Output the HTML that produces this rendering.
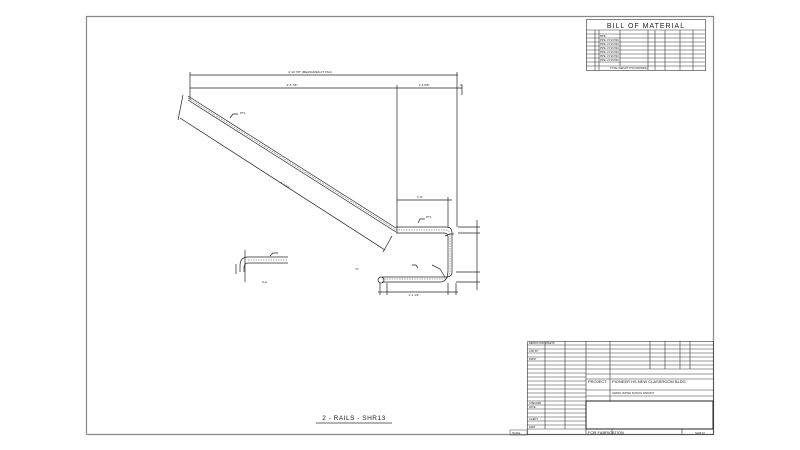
<!DOCTYPE html>
<html><head><style>
html,body{margin:0;padding:0;background:#fff}
svg{display:block}
text{font-family:"Liberation Sans",sans-serif;fill:#222}
</style></head><body>
<svg width="800" height="450" viewBox="0 0 800 450" xmlns="http://www.w3.org/2000/svg">
<g fill="none" stroke="#666">
<path d="M86.5 434.5V16.5H713.5V434.5H86.5" stroke="#888" stroke-width="1.2"/>
</g>
<!-- BOM -->
<g fill="none" stroke="#333" stroke-width="0.6">
<rect x="586.5" y="19.5" width="119" height="51"/>
<line x1="586" y1="30" x2="705" y2="30"/>
<line x1="586" y1="34" x2="705" y2="34"/>
<line x1="586" y1="38" x2="705" y2="38"/>
<line x1="586" y1="42" x2="705" y2="42"/>
<line x1="586" y1="46" x2="705" y2="46"/>
<line x1="586" y1="50" x2="705" y2="50"/>
<line x1="586" y1="54" x2="705" y2="54"/>
<line x1="586" y1="58" x2="705" y2="58"/>
<line x1="586" y1="62" x2="705" y2="62"/>
<line x1="586" y1="66" x2="705" y2="66"/>
<line x1="595" y1="30" x2="595" y2="70"/>
<line x1="599" y1="30" x2="599" y2="70"/>
<line x1="620" y1="30" x2="620" y2="66"/>
<line x1="648" y1="30" x2="648" y2="70"/>
<line x1="655" y1="30" x2="655" y2="70"/>
<line x1="665" y1="30" x2="665" y2="70"/>
<line x1="680" y1="30" x2="680" y2="70"/>
<line x1="693" y1="30" x2="693" y2="70"/>
</g>
<text x="646" y="28" font-size="7" text-anchor="middle" letter-spacing="1">BILL OF MATERIAL</text>
<g font-size="2.5">
<text x="600" y="37">PIPE</text><text x="600" y="41">PIPE 1.5 SCH40</text><text x="600" y="45">PIPE 1.5 SCH40</text><text x="600" y="49">PIPE 1.5 SCH40</text><text x="600" y="53">PIPE 1.5 SCH40</text><text x="600" y="57">PIPE 1.5 SCH40</text><text x="600" y="61">PIPE 1.5 SCH40</text>
<text x="610" y="69">TOTAL WEIGHT THIS DRAWING</text>
</g>
<!-- main drawing -->
<g fill="none" stroke="#222" stroke-width="0.7">
<line x1="190" y1="75" x2="458" y2="75"/>
<line x1="190" y1="88" x2="462" y2="88"/>
<line x1="190" y1="72" x2="190" y2="100"/>
<line x1="397" y1="85" x2="397" y2="233"/>
<line x1="457" y1="72" x2="457" y2="227"/>
<line x1="462" y1="85" x2="462" y2="95"/>
<line x1="397" y1="200" x2="452" y2="200"/>
<line x1="448" y1="197" x2="448" y2="227"/>
<line x1="188" y1="96" x2="396" y2="228"/>
<line x1="188" y1="100" x2="396" y2="232"/>
<line x1="188" y1="98" x2="396" y2="230" stroke-dasharray="2 1" stroke-width="0.4"/>
<line x1="180" y1="118" x2="385" y2="250"/>
<line x1="183" y1="95" x2="178" y2="120"/>
<line x1="392" y1="236" x2="383" y2="252"/>
<path d="M396 227H446Q452 227 452 233V272Q452 277 446 277H382"/>
<path d="M396 233H444Q448 233 448 237V270Q448 282 440 282H382"/>
<path d="M396 230H445Q450 230 450 235V271Q450 279 443 279H382" stroke-dasharray="1.5 1" stroke-width="0.4"/>
<circle cx="381" cy="280" r="3"/>
<line x1="458" y1="227" x2="480" y2="227"/>
<line x1="458" y1="233" x2="480" y2="233"/>
<line x1="456" y1="272" x2="480" y2="272"/>
<line x1="456" y1="282" x2="480" y2="282"/>
<line x1="477" y1="220" x2="477" y2="290"/>
<line x1="378" y1="292" x2="458" y2="292"/>
<line x1="380" y1="283" x2="380" y2="295"/>
<line x1="387" y1="283" x2="387" y2="295"/>
<line x1="448" y1="283" x2="448" y2="295"/>
<line x1="456" y1="283" x2="456" y2="295"/>
<path d="M230 118l3-4h5"/><path d="M418 223l2-4h5"/><path d="M445 236l5-2h4"/>
<path d="M412 265l4 0 2 3"/><path d="M432 265l8 4 5 8"/>
<path d="M248 257H288M248 263H288"/>
<path d="M248 260H288" stroke-dasharray="1.5 1" stroke-width="0.4"/>
<path d="M248 257Q240 257 240 266V272M248 263Q244 263 244 268V272"/>
<line x1="245" y1="250" x2="245" y2="282"/>
<line x1="236" y1="264" x2="236" y2="274"/>
<path d="M270 256l3-3h5"/>
</g>
<g font-size="3" fill="#222">
<text x="310" y="73" text-anchor="middle">4'-10 7/8" (MEASURED AT TAG)</text>
<text x="292" y="86" text-anchor="middle">3'-6 7/8"</text>
<text x="424" y="86" text-anchor="middle">1'-6 5/8"</text>
<text x="460" y="86">0"</text>
<text x="280" y="183" transform="rotate(32.5 280 183)">4'-7 1/2"</text>
<text x="420" y="198" text-anchor="middle">1'-0"</text>
<text x="240" y="114">PT1</text>
<text x="426" y="218">PT1</text>
<text x="414" y="296" text-anchor="middle">1'-1 1/2"</text>
<text x="262" y="283">A-A</text>
<text x="355" y="270">"A"</text>
</g>
<text x="354" y="420" font-size="6.5" text-anchor="middle" letter-spacing="0.5">2 - RAILS - SHR13</text>
<line x1="316" y1="423" x2="392" y2="423" stroke="#333" stroke-width="0.7"/>
<g fill="none" stroke="#333" stroke-width="0.6">
<rect x="527.5" y="341.5" width="186" height="93"/>
<path d="M527 345H713M527 349H713M527 353H713M527 357H713M527 361H713M527 365H713M527 369H586M527 373H586M527 377H586M527 381H586M527 385H586M527 389H586M527 393H586M527 397H586M527 401H586M527 405H586M527 409H586M527 413H586M527 417H586M527 421H586M527 425H586M527 429H713"/>
<path d="M586 369H713M586 374H713M586 379H713M586 390H713M586 396H713M586 401H713"/>
<path d="M545 341V429M565 341V429M586 341V434M610 341V401M650 341V369M665 341V369M680 341V369M690 341V369M612 429V434M682 429V434"/>
</g>
<rect x="586" y="401" width="127" height="28" fill="none" stroke="#222" stroke-width="1"/>
<g font-size="2.5">
<text x="529" y="344">REPRO FOR SHEETS</text><text x="529" y="352">CHK BY</text><text x="529" y="360">PRINT</text>
<text x="529" y="404">CHECKED</text><text x="529" y="408">DATE</text><text x="529" y="420">CLIENT</text>
<text x="529" y="428">PART</text>
</g>
<text x="588" y="383" font-size="4">PROJECT</text>
<text x="612" y="383" font-size="4">PIONEER HS NEW CLASSROOM BLDG</text>
<text x="612" y="394" font-size="2.5">GRAND UNITED SCHOOL DISTRICT</text>
<text x="588" y="434" font-size="4">FOR FABRICATION</text>
<text x="695" y="434" font-size="3">SHR13</text>
<rect x="510" y="430" width="17" height="5" fill="none" stroke="#444" stroke-width="0.5"/>
<text x="512" y="434" font-size="2.5">SCALE</text>
</svg>
</body></html>
